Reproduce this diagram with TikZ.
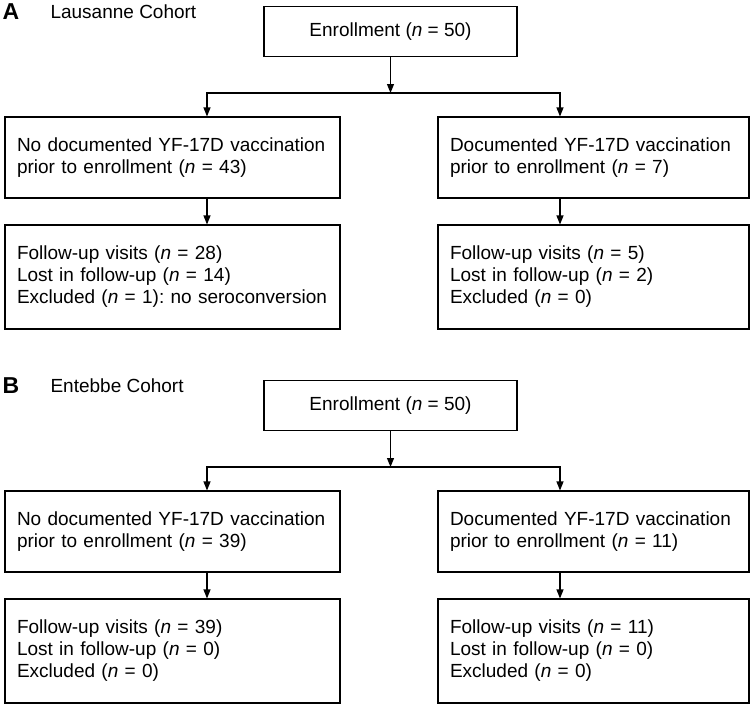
\documentclass[tikz,border=0pt]{standalone}
\usepackage{fontspec}
\setmainfont{Liberation Sans}
\usetikzlibrary{arrows.meta}
\newcommand{\nn}{\textit{n}}
\frenchspacing

\begin{document}
\begin{tikzpicture}[x=1pt, y=-1pt, line width=1.1pt,
  font=\fontsize{19}{22}\selectfont,
  box/.style={draw, rectangle, inner xsep=12pt, inner ysep=0pt, align=left},
  arr/.style={-{Triangle[width=7pt,length=9pt]}}]

\useasboundingbox (0,0) rectangle (756,707);

\foreach \p/\yo/\cohort/\nL/\nR/\fL/\lL/\xL/\fR/\lR in
 {A/0/Lausanne/43/7/28/14/1): no seroconversion/5/2,
  B/374/Entebbe/39/11/39/0/0)/11/0} {
 \node[anchor=base west, inner sep=0, font=\fontsize{23}{24}\selectfont\bfseries] (lab\p) at (2,19+\yo) {\p};
 \node[anchor=base west, inner sep=0] (coh\p) at (50,18+\yo) {\cohort{} Cohort};

 \node[box, align=center, minimum width=253pt, minimum height=50pt] (enr\p) at (390.5,31.5+\yo) {Enrollment (\nn{} = 50)};
 \node[box, text width=311pt, minimum height=81pt] (no\p) at (172.5,157.5+\yo)
  {No documented YF-17D vaccination\\prior to enrollment (\nn{} = \nL)};
 \node[box, text width=287pt, minimum height=81pt] (doc\p) at (593.5,157.5+\yo)
  {Documented YF-17D vaccination\\prior to enrollment (\nn{} = \nR)};
 \node[box, text width=311pt, minimum height=104pt] (fuL\p) at (172.5,277+\yo)
  {Follow-up visits (\nn{} = \fL)\\Lost in follow-up (\nn{} = \lL)\\Excluded (\nn{} = \xL};
 \node[box, text width=287pt, minimum height=104pt] (fuR\p) at (593.5,277+\yo)
  {Follow-up visits (\nn{} = \fR)\\Lost in follow-up (\nn{} = \lR)\\Excluded (\nn{} = 0)};

 \coordinate (sp\p) at (390.5,93+\yo);
 \coordinate (l\p) at (207,93+\yo);
 \coordinate (r\p) at (560,93+\yo);
 \draw[arr] (enr\p) -- (sp\p);
 \draw[arr] (sp\p) -| (l\p |- no\p.north);
 \draw[arr] (sp\p) -| (r\p |- doc\p.north);
 \draw[arr] (l\p |- no\p.south) -- (l\p |- fuL\p.north);
 \draw[arr] (r\p |- doc\p.south) -- (r\p |- fuR\p.north);
}
\end{tikzpicture}
\end{document}
